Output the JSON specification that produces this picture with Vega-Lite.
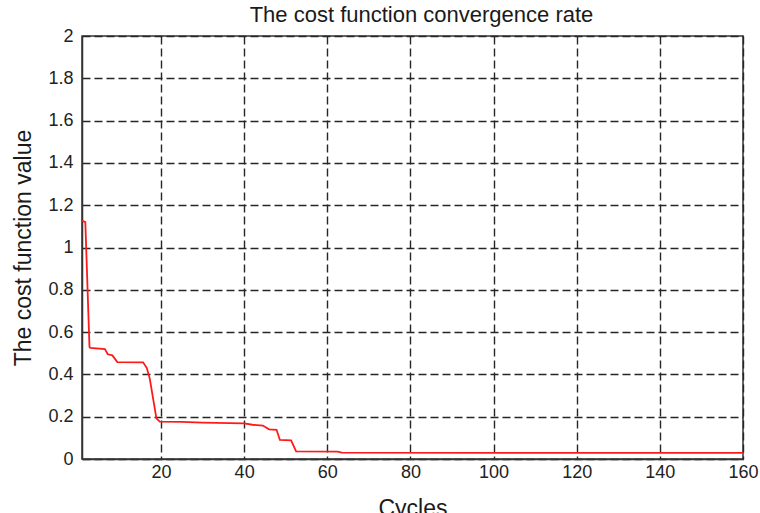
{
  "$schema": "https://vega.github.io/schema/vega-lite/v6.json",
  "width": 661,
  "height": 423,
  "autosize": {"type": "none"},
  "padding": {"left": 82, "top": 36, "right": 17, "bottom": 54},
  "background": "white",
  "title": {
    "text": "The cost function convergence rate",
    "fontSize": 22,
    "font": "Liberation Sans",
    "fontWeight": "normal",
    "color": "#1a1a1a",
    "offset": 0,
    "dx": 9
  },
  "data": {
    "values": [
      {"cycle": 1, "cost": 1.127},
      {"cycle": 1.8, "cost": 1.12},
      {"cycle": 2.8, "cost": 0.53},
      {"cycle": 3, "cost": 0.525},
      {"cycle": 6.5, "cost": 0.52},
      {"cycle": 7.2, "cost": 0.495},
      {"cycle": 8.3, "cost": 0.49},
      {"cycle": 9.5, "cost": 0.458},
      {"cycle": 15.7, "cost": 0.457},
      {"cycle": 16.6, "cost": 0.43},
      {"cycle": 17.3, "cost": 0.38},
      {"cycle": 18.9, "cost": 0.192},
      {"cycle": 19.7, "cost": 0.177},
      {"cycle": 25, "cost": 0.176},
      {"cycle": 30, "cost": 0.172},
      {"cycle": 40, "cost": 0.168},
      {"cycle": 42, "cost": 0.162},
      {"cycle": 44.5, "cost": 0.158},
      {"cycle": 46, "cost": 0.14},
      {"cycle": 47.8, "cost": 0.138},
      {"cycle": 48.6, "cost": 0.09},
      {"cycle": 51.3, "cost": 0.088},
      {"cycle": 52.5, "cost": 0.036},
      {"cycle": 62.5, "cost": 0.035},
      {"cycle": 63.5, "cost": 0.03},
      {"cycle": 100, "cost": 0.029},
      {"cycle": 160, "cost": 0.029}
    ]
  },
  "mark": {"type": "line", "color": "#ff1a1a", "strokeWidth": 1.8, "clip": true},
  "encoding": {
    "x": {
      "field": "cycle",
      "type": "quantitative",
      "scale": {"domain": [1, 160], "nice": false, "zero": false},
      "axis": {
        "title": "Cycles",
        "values": [20, 40, 60, 80, 100, 120, 140, 160],
        "titleFont": "Liberation Sans",
        "titleFontSize": 23,
        "titleFontWeight": "normal",
        "titleColor": "#1a1a1a",
        "titlePadding": 16,
        "labelFont": "Liberation Sans",
        "labelFontSize": 18,
        "labelColor": "#222222",
        "labelPadding": 4,
        "labelFlush": false,
        "labelOverlap": false,
        "ticks": false,
        "domainColor": "#333333",
        "domainWidth": 1.5,
        "grid": true,
        "gridColor": "#262626",
        "gridDash": [8, 4],
        "gridWidth": 1.4,
        "gridOpacity": 1
      }
    },
    "y": {
      "field": "cost",
      "type": "quantitative",
      "scale": {"domain": [0, 2], "nice": false},
      "axis": {
        "title": "The cost function value",
        "values": [0, 0.2, 0.4, 0.6, 0.8, 1, 1.2, 1.4, 1.6, 1.8, 2],
        "format": "~g",
        "titleFont": "Liberation Sans",
        "titleFontSize": 23,
        "titleFontWeight": "normal",
        "titleColor": "#1a1a1a",
        "titlePadding": 12,
        "labelFont": "Liberation Sans",
        "labelFontSize": 18,
        "labelColor": "#222222",
        "labelPadding": 9,
        "labelFlush": false,
        "labelOverlap": false,
        "ticks": false,
        "domainColor": "#333333",
        "domainWidth": 1.5,
        "grid": true,
        "gridColor": "#262626",
        "gridDash": [8, 4],
        "gridWidth": 1.4,
        "gridOpacity": 1
      }
    }
  },
  "config": {
    "view": {"stroke": "#333333", "strokeWidth": 1.5}
  }
}
